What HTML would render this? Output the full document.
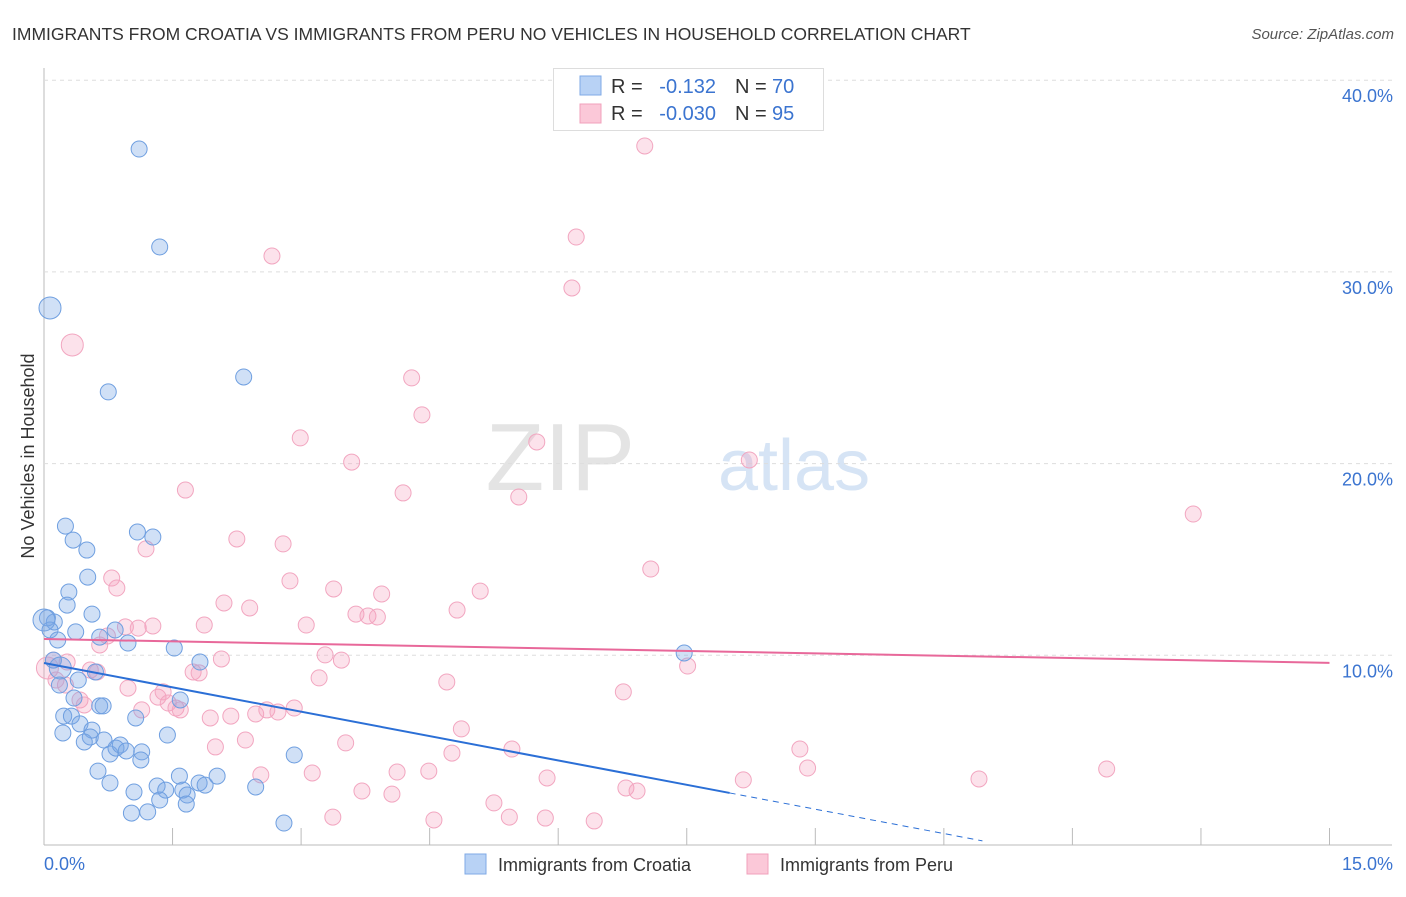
<!DOCTYPE html>
<html><head><meta charset="utf-8"><style>
body{margin:0;background:#fff;width:1406px;height:892px;overflow:hidden;font-family:"Liberation Sans",sans-serif}
svg text{font-family:"Liberation Sans",sans-serif}
</style></head><body>
<svg id="chart" width="1406" height="892">
<text x="12" y="40" font-size="17.5" fill="#333">IMMIGRANTS FROM CROATIA VS IMMIGRANTS FROM PERU NO VEHICLES IN HOUSEHOLD CORRELATION CHART</text>
<text x="1394" y="39" font-size="15" fill="#555" text-anchor="end" font-style="italic">Source: ZipAtlas.com</text>
<text x="635" y="490" font-size="96" fill="#e4e4e4" text-anchor="end" font-family="Liberation Serif">ZIP</text>
<text x="718" y="490" font-size="72" fill="#d6e4f5">atlas</text>
<text transform="translate(34,456) rotate(-90)" font-size="18" fill="#333" text-anchor="middle">No Vehicles in Household</text>
<g id="grid"></g><g id="marks"></g><g id="lines"></g>
<g>
<rect x="553.5" y="68.5" width="270" height="62" fill="#fff" stroke="#ddd"/>
<rect x="580" y="76" width="21" height="19" fill="#b8d2f5" stroke="#7faae6"/>
<rect x="580" y="104" width="21" height="19" fill="#fbc8d8" stroke="#f0a0bb"/>
<text x="611" y="93" font-size="20" fill="#333">R = </text><text x="716" y="93" font-size="20" fill="#3b74d0" text-anchor="end">-0.132</text>
<text x="735" y="93" font-size="20" fill="#333">N = </text><text x="772" y="93" font-size="20" fill="#3b74d0">70</text>
<text x="611" y="120" font-size="20" fill="#333">R = </text><text x="716" y="120" font-size="20" fill="#3b74d0" text-anchor="end">-0.030</text>
<text x="735" y="120" font-size="20" fill="#333">N = </text><text x="772" y="120" font-size="20" fill="#3b74d0">95</text>
</g>
<g>
<rect x="465" y="854" width="21" height="20" fill="#b8d2f5" stroke="#7faae6"/>
<text x="498" y="871" font-size="18" fill="#333">Immigrants from Croatia</text>
<rect x="747" y="854" width="21" height="20" fill="#fbc8d8" stroke="#f0a0bb"/>
<text x="780" y="871" font-size="18" fill="#333">Immigrants from Peru</text>
</g>
</svg>
<script>
const yTicks=[10,20,30,40];
const xTickCount=[0,1.5,3,4.5,6,7.5,9,10.5,12,13.5,15];
const croatiaX=[1.11,1.35,0.07,0.75,2.33,0.25,0.34,0.50,1.09,1.27,0.51,0.29,0.27,0.56,0.12,0.07,0.16,0.37,0.65,0.83,0.98,1.52,1.82,0.11,0.19,0.60,0.40,0.18,0.35,0.65,0.69,0.23,0.32,1.07,1.59,0.22,0.42,0.56,0.54,0.47,0.70,0.77,0.84,0.89,0.96,1.14,1.13,1.44,0.63,0.77,1.05,1.32,1.42,1.58,1.62,1.67,1.35,1.02,1.21,1.66,1.81,1.88,2.02,2.47,2.92,2.80,7.47,0.04,0.0];
const croatiaY=[36.41,31.3,28.12,23.74,24.52,16.74,16.01,15.49,16.43,16.17,14.08,13.30,12.62,12.15,11.74,11.32,10.80,11.22,10.95,11.32,10.64,10.38,9.65,9.75,9.34,9.13,8.71,8.45,7.77,7.36,7.36,6.83,6.83,6.73,7.67,5.95,6.42,6.10,5.74,5.48,5.58,4.85,5.16,5.32,5.01,4.96,4.54,5.84,3.96,3.34,2.87,3.18,2.97,3.70,2.97,2.71,2.45,1.77,1.83,2.24,3.34,3.23,3.70,3.13,4.80,1.25,10.12,11.95,11.84];
const peruX=[7.01,6.21,2.66,6.16,0.33,4.29,4.41,2.99,5.75,3.59,8.23,1.65,4.19,5.54,13.41,2.25,1.19,2.79,7.08,0.79,0.85,2.87,3.38,3.94,5.09,2.10,2.40,4.82,3.64,3.78,3.89,1.87,3.06,0.95,1.10,1.27,0.74,0.65,3.28,3.47,7.51,2.07,0.11,0.27,0.04,0.54,0.62,1.74,1.81,3.21,4.70,0.98,0.25,0.14,0.42,0.47,1.33,1.39,1.45,1.54,1.59,1.94,2.18,2.47,2.60,2.73,2.92,1.14,6.76,4.87,2.00,2.35,3.52,4.76,5.46,8.82,8.91,2.53,3.13,4.12,4.49,5.87,8.16,10.91,12.40,3.71,4.06,6.79,6.92,5.25,5.43,5.85,3.37,4.55,6.42];
const peruY=[36.57,31.82,30.83,29.16,26.19,24.47,22.54,21.34,21.13,20.08,20.19,18.62,18.47,18.26,17.37,16.07,15.55,15.81,14.50,14.03,13.51,13.88,13.46,13.20,13.35,12.73,12.47,12.36,12.15,12.05,12.00,11.58,11.58,11.48,11.42,11.53,11.01,10.54,10.02,9.75,9.44,9.81,9.75,9.65,9.34,9.23,9.13,9.13,9.08,8.82,8.61,8.29,8.45,8.71,7.67,7.41,7.82,8.09,7.51,7.25,7.15,6.73,6.83,6.94,7.15,7.04,7.25,7.15,8.09,6.16,5.22,5.58,5.43,4.90,5.11,5.11,4.12,3.76,3.86,3.91,3.96,3.60,3.50,3.55,4.07,2.92,2.76,3.08,2.92,2.30,1.56,1.51,1.56,1.41,1.36];
const croatiaTrend=[9.6,-0.8475];
const peruTrend=[10.85,-0.083];
const xs=v=>44+v*85.7, ys=v=>847-v*19.17;
const NS='http://www.w3.org/2000/svg';
function mk(p,tag,a){const e=document.createElementNS(NS,tag);for(const k in a)e.setAttribute(k,a[k]);p.appendChild(e);return e;}
const grid=document.getElementById('grid'),marks=document.getElementById('marks'),lines=document.getElementById('lines');
mk(grid,'line',{x1:44,y1:68,x2:44,y2:845,stroke:'#bbb'});
mk(grid,'line',{x1:44,y1:845,x2:1392,y2:845,stroke:'#bbb'});
yTicks.forEach(t=>{
 const g=mk(grid,'line',{x1:44,y1:ys(t),x2:1392,y2:ys(t),stroke:'#ddd','stroke-dasharray':'4 4'});
 
 
 const tx=mk(grid,'text',{x:1393,y:ys(t)+22,'font-size':18,fill:'#3b74d0','text-anchor':'end'});tx.textContent=t.toFixed(1)+'%';
 
 
});
xTickCount.forEach(t=>{
 const l=mk(grid,'line',{x1:xs(t),y1:828,x2:xs(t),y2:845,stroke:'#bbb'});
 
 
});
[[0,'0.0%','start',44],[15,'15.0%','end',1393]].forEach(a=>{
 const tx=mk(grid,'text',{x:a[3],y:870,'font-size':18,fill:'#3b74d0','text-anchor':a[2]});tx.textContent=a[1];
 
 
});
function pts(X,Y,fill,stroke,name){X.forEach((x,i)=>{
 const r=(x<0.4&&(Y[i]>25||Math.abs(Y[i]-11.84)<0.01||Math.abs(Y[i]-9.34)<0.01))?11:8;
 const c=mk(marks,'circle',{cx:xs(x),cy:ys(Y[i]),r:r,fill:fill,stroke:stroke,'stroke-width':1});
 
 
});}
pts(peruX,peruY,'rgba(245,160,188,0.3)','#f2a6c0','point-peru');
pts(croatiaX,croatiaY,'rgba(120,165,230,0.35)','#6f9fe0','point-croatia');
const bEnd=8.0, bDash=10.95;
let l=mk(lines,'line',{x1:xs(0),y1:ys(croatiaTrend[0]),x2:xs(bEnd),y2:ys(croatiaTrend[0]+croatiaTrend[1]*bEnd),stroke:'#2b6fd6','stroke-width':2});


l=mk(lines,'line',{x1:xs(bEnd),y1:ys(croatiaTrend[0]+croatiaTrend[1]*bEnd),x2:xs(bDash),y2:ys(croatiaTrend[0]+croatiaTrend[1]*bDash),stroke:'#2b6fd6','stroke-width':1,'stroke-dasharray':'6 5'});


l=mk(lines,'line',{x1:xs(0),y1:ys(peruTrend[0]),x2:xs(15),y2:ys(peruTrend[0]+peruTrend[1]*15),stroke:'#e8689a','stroke-width':2});


</script>
</body></html>
